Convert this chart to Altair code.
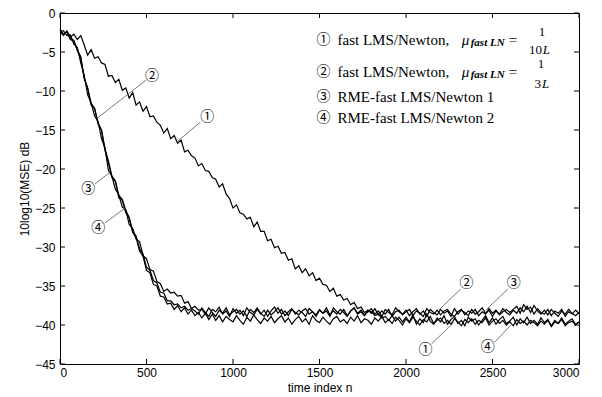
import altair as alt
import pandas as pd

# time index grid (every 20 samples)
x_n = list(range(0, 3001, 20))

# ① fast LMS/Newton, mu = 1/(10L)
curve1 = [
    -2.4, -2.9, -2.3, -3.1, -2.7, -3.4, -2.9, -4.1, -5.4, -4.7,
    -5.8, -5.6, -6.4, -6.6, -8.1, -8.0, -8.9, -8.5, -9.9, -9.6,
    -10.9, -10.2, -11.8, -11.4, -12.6, -12.0, -13.3, -13.2, -14.0, -14.4,
    -15.4, -14.8, -16.1, -15.7, -16.7, -16.3, -17.8, -17.6, -18.3, -18.6,
    -19.6, -19.3, -20.2, -20.3, -21.1, -21.3, -22.3, -21.9, -23.2, -23.8,
    -25.0, -24.6, -25.6, -25.8, -26.4, -26.2, -27.4, -26.8, -28.0, -28.0,
    -29.2, -29.0, -30.1, -29.9, -30.8, -30.7, -31.7, -31.5, -32.8, -32.4,
    -33.3, -32.8, -33.7, -33.3, -34.3, -34.0, -34.8, -34.9, -35.7, -35.3,
    -36.3, -36.1, -36.8, -36.6, -37.4, -37.1, -37.9, -37.7, -38.4, -38.1,
    -38.3, -38.8, -38.6, -39.1, -38.9, -39.4, -38.8, -39.5, -39.0, -39.6,
    -39.0, -39.6, -38.7, -39.9, -39.2, -39.7, -38.6, -39.5, -39.9, -39.1,
    -39.6, -38.8, -39.9, -39.3, -38.9, -39.8, -39.4, -40.1, -39.0, -39.5,
    -39.2, -40.0, -39.4, -38.8, -39.7, -39.1, -39.9, -39.3, -38.9, -39.8,
    -39.5, -39.0, -40.0, -39.2, -39.7, -39.0, -39.8, -39.4, -39.9, -39.1,
    -39.7, -39.3, -40.1, -39.4, -39.8, -39.1, -39.9, -39.5, -39.2, -39.9,
    -39.6,
]

# ② fast LMS/Newton, mu = 1/(3L)
curve2 = [
    -2.2, -2.7, -2.4, -3.2, -3.5, -4.7, -5.6, -8.3, -9.7, -11.8,
    -12.3, -14.2, -15.1, -17.6, -19.2, -21.1, -21.6, -23.7, -24.0, -25.6,
    -26.3, -28.0, -28.6, -30.2, -30.9, -32.6, -33.0, -34.3, -34.6, -35.8,
    -35.9, -36.9, -36.9, -37.4, -37.3, -37.8, -37.6, -38.1, -37.9, -38.2,
    -38.6, -37.8, -38.4, -38.9, -38.0, -38.3, -37.7, -38.6, -38.2, -38.9,
    -37.9, -38.5, -38.1, -38.8, -37.8, -38.4, -38.7, -38.0, -38.6, -38.1,
    -38.9, -38.2, -37.7, -38.5, -38.0, -38.8, -38.3, -37.9, -38.6, -38.1,
    -38.4, -38.9, -37.9, -38.3, -38.7, -38.0, -38.5, -38.2, -38.9, -37.8,
    -38.3, -38.6, -38.0, -38.8, -38.2, -37.8, -38.5, -38.1, -38.7, -38.3,
    -37.9, -38.6, -38.2, -38.9, -38.0, -38.4, -38.7, -37.8, -38.3, -38.6,
    -38.1, -38.8, -38.3, -37.9, -38.6, -38.2, -38.9, -38.0, -38.4, -38.7,
    -38.0, -38.5, -38.2, -38.9, -37.9, -38.6, -38.1, -38.4, -38.8, -38.0,
    -38.6, -38.3, -37.8, -38.5, -38.1, -38.9, -38.2, -38.6, -37.9, -38.4,
    -38.7, -38.1, -38.5, -37.8, -38.3, -37.6, -38.4, -37.5, -38.2, -38.6,
    -38.1, -38.7, -38.0, -38.5, -38.9, -38.2, -38.6, -38.0, -38.5, -38.8,
    -38.4,
]

# ③ RME-fast LMS/Newton 1
curve3 = [
    -2.3, -2.3, -2.9, -2.8, -4.0, -4.4, -6.4, -8.0, -10.5, -11.5,
    -13.2, -13.9, -16.1, -17.3, -20.2, -20.9, -22.6, -23.3, -24.9, -25.2,
    -27.1, -27.6, -29.0, -29.3, -31.1, -31.5, -32.9, -33.1, -34.4, -34.7,
    -35.7, -35.4, -35.9, -35.8, -36.3, -36.2, -37.2, -37.0, -37.9, -37.6,
    -38.1, -38.0, -38.6, -37.8, -38.4, -38.9, -38.1, -38.5, -37.8, -38.7,
    -38.3, -38.0, -38.6, -38.2, -38.9, -38.0, -38.4, -37.8, -38.5, -38.9,
    -38.1, -38.7, -38.3, -37.8, -38.6, -38.2, -38.8, -38.0, -38.4, -38.7,
    -38.2, -37.9, -38.6, -38.3, -38.9, -38.1, -38.5, -37.8, -38.7, -38.2,
    -38.6, -38.0, -38.4, -38.9, -38.2, -37.8, -38.6, -38.3, -38.8, -38.1,
    -38.5, -37.9, -38.7, -38.2, -38.6, -38.0, -38.9, -38.3, -38.1, -38.7,
    -38.3, -38.0, -38.8, -38.2, -38.5, -38.9, -37.9, -38.4, -38.6, -38.1,
    -38.7, -38.2, -38.0, -38.6, -38.9, -38.3, -38.0, -38.7, -38.2, -38.5,
    -38.0, -38.8, -38.3, -38.6, -37.9, -38.5, -38.1, -38.7, -38.3, -38.0,
    -38.4, -38.0, -37.6, -38.5, -37.4, -38.0, -37.7, -38.6, -37.9, -38.4,
    -38.6, -38.0, -38.8, -38.2, -38.5, -38.0, -38.9, -38.3, -38.6, -38.1,
    -38.5,
]

# ④ RME-fast LMS/Newton 2
curve4 = [
    -2.1, -2.8, -2.4, -3.4, -3.6, -4.8, -5.8, -8.4, -9.6, -11.6,
    -12.2, -14.1, -15.0, -17.4, -19.0, -20.9, -21.5, -23.4, -23.9, -25.3,
    -26.2, -28.1, -28.8, -30.5, -31.2, -33.0, -33.3, -34.8, -35.0, -36.3,
    -36.4, -37.3, -37.2, -38.0, -37.5, -38.3, -37.8, -38.6, -38.1, -38.8,
    -38.4, -39.1, -38.5, -39.3, -38.6, -39.4, -38.8, -39.6, -38.9, -39.3,
    -39.6, -38.8, -39.4, -39.9, -39.0, -39.5, -38.7, -39.3, -39.8, -39.1,
    -39.5, -38.9, -39.7, -39.2, -38.8, -39.6, -39.1, -39.9, -39.3, -38.9,
    -39.6, -39.2, -39.9, -38.8, -39.4, -39.7, -39.0, -39.5, -39.9, -39.2,
    -38.9, -39.6, -39.3, -39.8, -39.0, -39.5, -38.8, -39.7, -39.2, -39.4,
    -39.9, -39.1, -39.5, -38.9, -39.7, -39.3, -39.8, -39.0, -39.4, -40.0,
    -39.2, -39.7, -39.0, -39.5, -40.0, -39.3, -39.6, -38.9, -39.8, -39.4,
    -39.1, -39.8, -39.4, -39.9, -39.2, -39.6, -40.1, -39.3, -39.7, -39.2,
    -39.9, -39.4, -39.7, -39.1, -40.0, -39.5, -39.2, -39.8, -39.4, -40.0,
    -39.6, -40.1, -39.3, -39.8, -39.5, -40.0, -39.4, -39.7, -40.1, -39.5,
    -39.9, -39.4, -40.2, -39.6, -39.8, -39.3, -40.1, -39.7, -39.5, -40.0,
    -39.6,
]

x_ticks = [0, 500, 1000, 1500, 2000, 2500, 3000]
y_ticks = [0, -5, -10, -15, -20, -25, -30, -35, -40, -45]

# callout labels and leader lines (data coordinates)
callout_label = ["①", "②", "③", "④", "②", "③", "①", "④"]
callout_lx = [851, 532, 163, 221, 2350, 2623, 2113, 2472]
callout_ly = [-13.3, -8.1, -22.6, -27.6, -34.6, -34.6, -43.2, -42.8]
callout_x1 = [811, 498, 203, 261, 2316, 2588, 2148, 2513]
callout_y1 = [-14.0, -8.6, -21.9, -26.9, -35.4, -35.4, -42.4, -42.2]
callout_x2 = [677, 214, 290, 376, 2189, 2461, 2276, 2606]
callout_y2 = [-16.5, -13.5, -20.4, -25.0, -38.1, -38.1, -39.7, -40.0]

# legend block (top right)
legend_num = ["①", "②", "③", "④"]
legend_text = ["fast LMS/Newton,", "fast LMS/Newton,",
               "RME-fast LMS/Newton 1", "RME-fast LMS/Newton 2"]
legend_y = [-3.46, -7.56, -10.77, -13.46]
legend_num_x = 1523
legend_text_x = 1604
mu_x, mu_sub_x, eq_x = 2322, 2374, 2594
mu_y = [-3.46, -7.56]
mu_sub_y = [-3.85, -7.95]
frac_num_x = [2786, 2780]
frac_num_y = [-2.44, -6.54]
frac_den_digits = ["10", "3"]
frac_den_dx = [2786, 2780]
frac_den_lx = [2791, 2786]
frac_den_y = [-4.74, -9.10]

n = len(x_n)
assert all(len(c) == n for c in (curve1, curve2, curve3, curve4))

curves = pd.concat([
    pd.DataFrame({"x": x_n, "y": c, "curve": name})
    for name, c in (("1", curve1), ("2", curve2), ("3", curve3), ("4", curve4))
])

xs = alt.Scale(domain=[0, 3000], nice=False, zero=False)
ys = alt.Scale(domain=[-45, 0], nice=False, zero=False)
X = alt.X("x:Q", scale=xs, axis=alt.Axis(values=x_ticks, title="time index n",
                                         format="d", labelPadding=3, titlePadding=4))
Y = alt.Y("y:Q", scale=ys, axis=alt.Axis(values=y_ticks, title="10log10(MSE) dB",
                                         format="d", labelPadding=5, titlePadding=3))

lines = alt.Chart(curves).mark_line(color="black", strokeWidth=1.2).encode(
    x=X, y=Y, detail="curve:N", order="x:Q")

callouts = pd.DataFrame({"x": callout_x1, "y": callout_y1,
                         "x2": callout_x2, "y2": callout_y2})
leaders = alt.Chart(callouts).mark_rule(color="#555555", strokeWidth=0.8).encode(
    x=X, y=Y, x2="x2:Q", y2="y2:Q")

circ_font = "Noto Sans CJK JP"
callout_text = alt.Chart(pd.DataFrame({"x": callout_lx, "y": callout_ly,
                                       "t": callout_label})).mark_text(
    font=circ_font, fontSize=14, color="black", baseline="middle", align="center"
).encode(x=X, y=Y, text="t:N")

leg_num = alt.Chart(pd.DataFrame({"x": [legend_num_x] * 4, "y": legend_y,
                                  "t": legend_num})).mark_text(
    font=circ_font, fontSize=14, color="black", baseline="middle", align="center"
).encode(x=X, y=Y, text="t:N")

serif = "Liberation Serif"
leg_txt = alt.Chart(pd.DataFrame({"x": [legend_text_x] * 4, "y": legend_y,
                                  "t": legend_text})).mark_text(
    font=serif, fontSize=15, color="black", baseline="middle", align="left"
).encode(x=X, y=Y, text="t:N")

mu = alt.Chart(pd.DataFrame({"x": [mu_x] * 2, "y": mu_y, "t": ["μ", "μ"]})).mark_text(
    font=serif, fontSize=15, fontStyle="italic", color="black",
    baseline="middle", align="left").encode(x=X, y=Y, text="t:N")

mu_sub = alt.Chart(pd.DataFrame({"x": [mu_sub_x] * 2, "y": mu_sub_y,
                                 "t": ["fast LN", "fast LN"]})).mark_text(
    font=serif, fontSize=11, fontStyle="italic", fontWeight="bold", color="black",
    baseline="middle", align="left").encode(x=X, y=Y, text="t:N")

eq = alt.Chart(pd.DataFrame({"x": [eq_x] * 2, "y": mu_y, "t": ["=", "="]})).mark_text(
    font=serif, fontSize=15, color="black", baseline="middle", align="left"
).encode(x=X, y=Y, text="t:N")

frac_num = alt.Chart(pd.DataFrame({"x": frac_num_x, "y": frac_num_y,
                                   "t": ["1", "1"]})).mark_text(
    font=serif, fontSize=13, color="black", baseline="middle", align="center"
).encode(x=X, y=Y, text="t:N")

frac_den = alt.Chart(pd.DataFrame({"x": frac_den_dx, "y": frac_den_y,
                                   "t": frac_den_digits})).mark_text(
    font=serif, fontSize=13, color="black", baseline="middle", align="right"
).encode(x=X, y=Y, text="t:N")

frac_L = alt.Chart(pd.DataFrame({"x": frac_den_lx, "y": frac_den_y,
                                 "t": ["L", "L"]})).mark_text(
    font=serif, fontSize=13, fontStyle="italic", color="black",
    baseline="middle", align="left").encode(x=X, y=Y, text="t:N")

# inward tick marks on all four sides
W, H, TL = 519, 351, 5
xt = pd.DataFrame({"x": x_ticks})
yt = pd.DataFrame({"y": y_ticks})
tick_bottom = alt.Chart(xt).mark_rule(color="black", strokeWidth=1).encode(
    x=X, y=alt.value(H), y2=alt.value(H - TL))
tick_top = alt.Chart(xt).mark_rule(color="black", strokeWidth=1).encode(
    x=X, y=alt.value(0), y2=alt.value(TL))
tick_left = alt.Chart(yt).mark_rule(color="black", strokeWidth=1).encode(
    y=Y, x=alt.value(0), x2=alt.value(TL))
tick_right = alt.Chart(yt).mark_rule(color="black", strokeWidth=1).encode(
    y=Y, x=alt.value(W), x2=alt.value(W - TL))

chart = alt.layer(
    lines, leaders, callout_text, leg_num, leg_txt, mu, mu_sub, eq,
    frac_num, frac_den, frac_L, tick_bottom, tick_top, tick_left, tick_right
).properties(
    width=W, height=H, autosize="none",
    padding={"left": 52, "top": 5, "right": 10, "bottom": 30},
    background="white",
).configure_view(
    stroke="black", strokeWidth=1
).configure_axis(
    grid=False, domain=False, ticks=False,
    labelFont="Liberation Sans", labelFontSize=12, labelColor="black",
    titleFont="Liberation Sans", titleFontSize=12, titleFontWeight="normal",
    titleColor="black",
)

chart.save("out.html", embed_options={"renderer": "svg", "actions": False})
